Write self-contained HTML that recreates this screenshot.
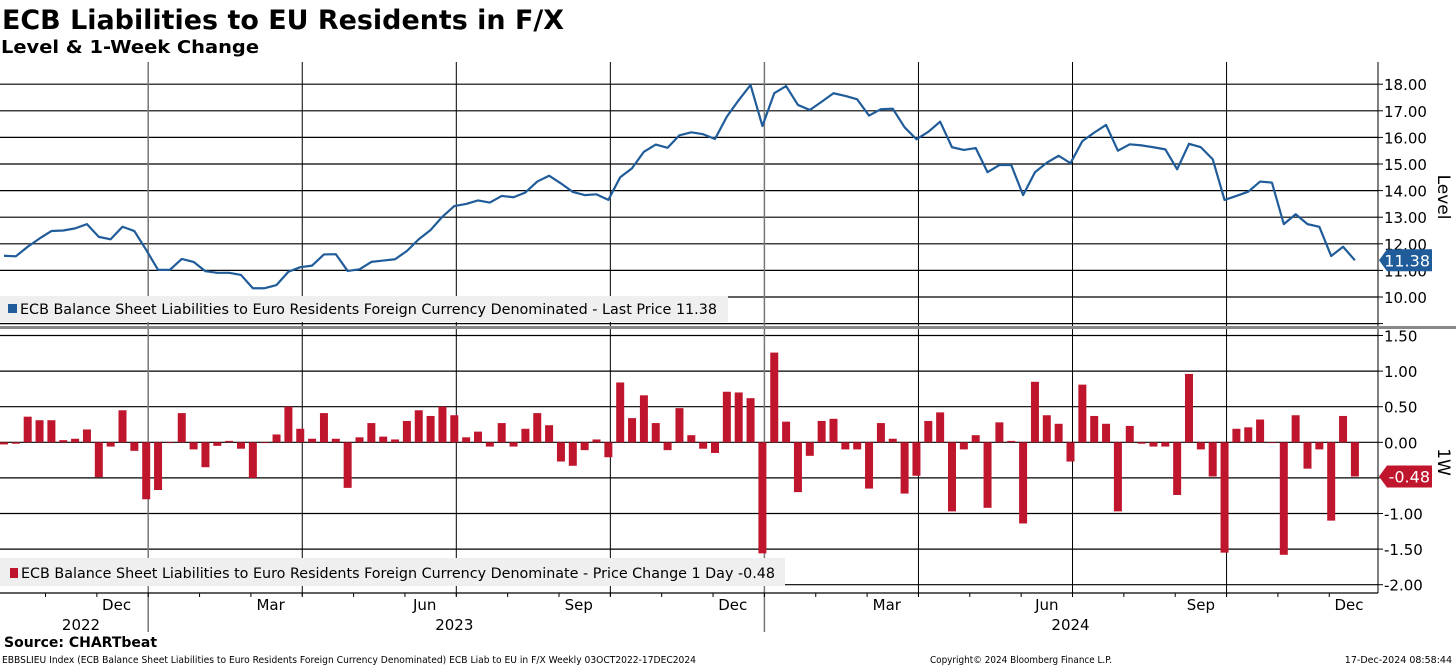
<!DOCTYPE html>
<html><head><meta charset="utf-8">
<style>
html,body{margin:0;padding:0;background:#fff;}
svg{display:block;font-family:"DejaVu Sans","Liberation Sans",sans-serif;}
</style></head>
<body>
<svg id="chart" width="1456" height="666" viewBox="0 0 1456 666" xmlns="http://www.w3.org/2000/svg">
<text x="2" y="29" font-size="27" font-weight="bold" textLength="562" lengthAdjust="spacingAndGlyphs">ECB Liabilities to EU Residents in F/X</text>
<text x="1" y="53" font-size="18" font-weight="bold" textLength="258" lengthAdjust="spacingAndGlyphs">Level &amp; 1-Week Change</text>
<g id="xaxPanel"></g>
<g id="topPanel"></g>
<g id="botPanel"></g>
<g id="tagPanel"></g>
<text x="4" y="647" font-size="14" font-weight="bold">Source: CHARTbeat</text>
<text x="2" y="663" font-size="9.5" textLength="694" lengthAdjust="spacingAndGlyphs">EBBSLIEU Index (ECB Balance Sheet Liabilities to Euro Residents Foreign Currency Denominated) ECB Liab to EU in F/X  Weekly 03OCT2022-17DEC2024</text>
<text x="930" y="663" font-size="9.5" textLength="182" lengthAdjust="spacingAndGlyphs">Copyright© 2024 Bloomberg Finance L.P.</text>
<text x="1452" y="663" font-size="9.5" text-anchor="end">17-Dec-2024 08:58:44</text>
</svg>
<script>
const levels = [11.55,11.53,11.89,12.2,12.48,12.5,12.58,12.74,12.26,12.17,12.64,12.48,11.77,11.02,11.02,11.43,11.32,10.97,10.91,10.91,10.83,10.33,10.33,10.45,10.95,11.12,11.18,11.6,11.61,10.98,11.04,11.32,11.37,11.42,11.73,12.17,12.52,13.02,13.42,13.5,13.63,13.55,13.8,13.75,13.93,14.34,14.56,14.27,13.95,13.83,13.86,13.65,14.5,14.84,15.46,15.73,15.61,16.08,16.19,16.12,15.94,16.78,17.4,17.97,16.43,17.66,17.93,17.22,17.03,17.34,17.66,17.56,17.43,16.82,17.06,17.08,16.38,15.93,16.21,16.59,15.63,15.53,15.6,14.69,14.96,14.96,13.83,14.69,15.05,15.31,15.03,15.86,16.18,16.47,15.5,15.74,15.7,15.63,15.55,14.8,15.76,15.63,15.18,13.65,13.8,13.96,14.34,14.3,12.74,13.11,12.74,12.64,11.54,11.89,11.38];
const changes = [-0.03,-0.02,0.36,0.31,0.31,0.03,0.05,0.18,-0.49,-0.06,0.45,-0.12,-0.8,-0.67,0.0,0.41,-0.1,-0.35,-0.05,0.02,-0.09,-0.5,0.0,0.11,0.5,0.19,0.05,0.41,0.05,-0.64,0.07,0.27,0.08,0.04,0.3,0.45,0.37,0.5,0.38,0.07,0.15,-0.06,0.27,-0.06,0.19,0.41,0.24,-0.27,-0.33,-0.11,0.04,-0.21,0.84,0.34,0.66,0.27,-0.11,0.48,0.1,-0.09,-0.15,0.71,0.7,0.62,-1.56,1.26,0.29,-0.7,-0.19,0.3,0.33,-0.1,-0.1,-0.65,0.27,0.05,-0.72,-0.47,0.3,0.42,-0.97,-0.1,0.1,-0.92,0.28,0.02,-1.14,0.85,0.38,0.26,-0.27,0.81,0.37,0.26,-0.97,0.23,-0.02,-0.06,-0.06,-0.74,0.96,-0.1,-0.48,-1.55,0.19,0.21,0.32,-0.01,-1.58,0.38,-0.37,-0.1,-1.1,0.37,-0.48];
const levelTicks = [10,11,12,13,14,15,16,17,18];
const changeTicks = [1.5,1.0,0.5,0.0,-0.5,-1.0,-1.5,-2.0];
const monthLabels = ["Dec","Mar","Jun","Sep","Dec","Mar","Jun","Sep","Dec"];
const monthIdx = [9.5,22.5,35.5,48.5,61.5,74.5,88,101,113.5];
const quarterIdx = [12,25,38,51,64,77,90,103];
const yearLabels = ["2022","2023","2024"];
const yearIdx = [6.5,38,90];
const lastLevel = 11.38, lastChange = -0.48;

const NS="http://www.w3.org/2000/svg";
function mk(tag, attrs, parent){const e=document.createElementNS(NS,tag);for(const k in attrs)e.setAttribute(k,attrs[k]);parent.appendChild(e);return e;}
const X0=4, DX=11.85, AX=1378;
const xs = i => X0 + i*DX;
const yL = v => 297 - (v-10)*26.6;
const yC = v => 442.3 - v*71.2;
const topG=document.getElementById('topPanel'), botG=document.getElementById('botPanel'), xaxG=document.getElementById('xaxPanel'), tagG=document.getElementById('tagPanel');

[9].concat(levelTicks).forEach(v=>{
  const g=mk('line',{x1:0,x2:AX,y1:yL(v),y2:yL(v),stroke:'#000','stroke-width':1.2},xaxG);
  
  
  mk('line',{x1:AX,x2:AX+5,y1:yL(v),y2:yL(v),stroke:'#000'},topG);
});
levelTicks.forEach(v=>{
  const t=mk('text',{x:AX+6,y:yL(v)+6,'font-size':15},topG);
  t.textContent=v.toFixed(2);
  
  
});
changeTicks.forEach(v=>{
  const g=mk('line',{x1:0,x2:AX,y1:yC(v),y2:yC(v),stroke:'#000','stroke-width':1.2},xaxG);
  
  
  mk('line',{x1:AX,x2:AX+5,y1:yC(v),y2:yC(v),stroke:'#000'},botG);
  const t=mk('text',{x:AX+6,y:yC(v)+6,'font-size':15},botG);
  t.textContent=v.toFixed(2);
  
  
});
quarterIdx.forEach((q,k)=>{
  const yr = (k===0||k===4);
  const xx = xs(q)+2;
  const v1=mk('line',{x1:xx,x2:xx,y1:62,y2:yr?632:596,stroke:yr?'#777':'#000','stroke-width':yr?1.5:1},xaxG);
  
  
});
mk('line',{x1:AX,x2:AX,y1:62,y2:593,stroke:'#000','stroke-width':1},xaxG);
mk('line',{x1:0,x2:AX,y1:593,y2:593,stroke:'#000','stroke-width':1.2},xaxG);
mk('rect',{x:0,y:326,width:1456,height:3,fill:'#888'},xaxG);
for(let m=0;m<30;m++){const xx=xs(12)+2+(m-3)*(DX*13/3); if(xx>0&&xx<AX) mk('line',{x1:xx,x2:xx,y1:593,y2:597,stroke:'#000'},xaxG);}
monthLabels.forEach((s,i)=>{
  const t=mk('text',{x:xs(monthIdx[i]),y:610,'font-size':15,'text-anchor':'middle'},xaxG);
  t.textContent=s;
  
  
});
yearLabels.forEach((s,i)=>{
  const t=mk('text',{x:xs(yearIdx[i]),y:630,'font-size':15,'text-anchor':'middle'},xaxG);
  t.textContent=s;
  
  
});
changes.forEach((v,i)=>{
  const y0=yC(0), y1=yC(v);
  const r=mk('rect',{x:xs(i)-4,y:Math.min(y0,y1),width:8,height:Math.max(0.8,Math.abs(y1-y0)),fill:'#c0162d'},botG);
  
  
});
const pl=mk('polyline',{points:levels.map((v,i)=>xs(i)+','+yL(v)).join(' '),fill:'none',stroke:'#1f5c99','stroke-width':2.2,'stroke-linejoin':'round'},topG);


const lg1=mk('g',{},topG);


mk('rect',{x:0,y:296,width:728,height:26,fill:'#efefef'},lg1);
mk('rect',{x:8,y:304,width:9,height:9,fill:'#1f5c99'},lg1);
const lt1=mk('text',{x:20,y:314,'font-size':14,textLength:697,lengthAdjust:'spacingAndGlyphs'},lg1);
lt1.textContent='ECB Balance Sheet Liabilities to Euro Residents Foreign Currency Denominated - Last Price 11.38';
const lg2=mk('g',{},botG);


mk('rect',{x:0,y:558,width:785,height:28,fill:'#efefef'},lg2);
mk('rect',{x:10,y:568,width:8,height:10,fill:'#c0162d'},lg2);
const lt2=mk('text',{x:21,y:578,'font-size':14,textLength:754,lengthAdjust:'spacingAndGlyphs'},lg2);
lt2.textContent='ECB Balance Sheet Liabilities to Euro Residents Foreign Currency Denominate - Price Change 1 Day -0.48';
function tag(y,txt,col,name){
  const g=mk('g',{},tagG);
  
  
  mk('path',{d:`M${AX+1},${y} L${AX+9},${y-11} H1432 V${y+11} H${AX+9} Z`,fill:col},g);
  const t=mk('text',{x:1430,y:y+6,'font-size':16,fill:'#fff','text-anchor':'end'},g);
  t.textContent=txt;
}
tag(yL(lastLevel),lastLevel.toFixed(2),'#1f5c99','last-level-tag');
tag(yC(lastChange),lastChange.toFixed(2),'#c0162d','last-change-tag');
const a1=mk('text',{x:1438,y:197,'font-size':17,transform:'rotate(90 1438 197)','text-anchor':'middle'},topG);
a1.textContent='Level';


const a2=mk('text',{x:1438,y:462,'font-size':17,transform:'rotate(90 1438 462)','text-anchor':'middle'},botG);
a2.textContent='1W';


</script>
</body></html>
